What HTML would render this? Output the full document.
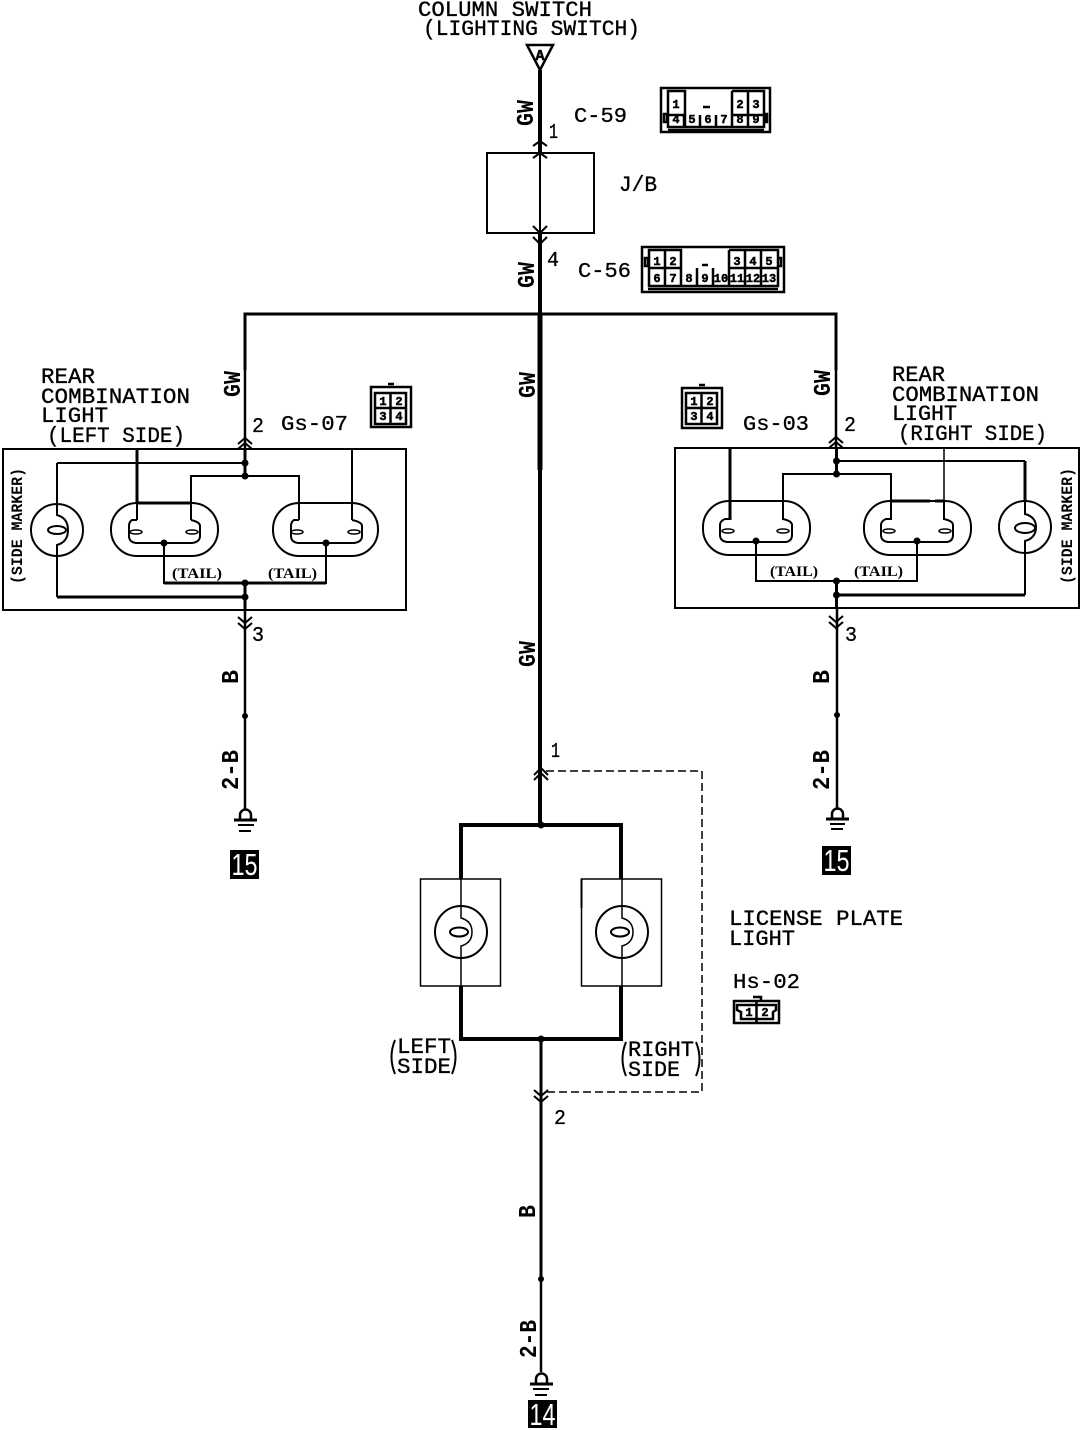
<!DOCTYPE html>
<html><head><meta charset="utf-8"><style>
html,body{margin:0;padding:0;background:#fff}
svg{display:block}
text{font-family:"Liberation Mono",monospace;fill:#000}
.t{font-size:22px;stroke:#000;stroke-width:.35px}
.m{font-size:21px;stroke:#000;stroke-width:.3px}
.r{font-size:24px;font-weight:bold}
.s{font-size:16px;font-weight:bold}
.tl{font-family:"Liberation Serif",serif;font-size:15px;font-weight:bold}
.c{font-size:12px;font-weight:bold;text-anchor:middle;stroke:#000;stroke-width:.5px}
.w{fill:none;stroke:#000;stroke-width:2}
.b{fill:none;stroke:#000;stroke-width:2.500}
.w1{fill:none;stroke:#000;stroke-width:1.5}
.w3{fill:none;stroke:#000;stroke-width:3}
.w4{fill:none;stroke:#000;stroke-width:4}
.n{fill:#000}
.k{font-family:"Liberation Sans",sans-serif;font-size:31px;fill:#fff;text-anchor:middle}
</style></head><body>
<svg width="1088" height="1430" viewBox="0 0 1088 1430" xmlns="http://www.w3.org/2000/svg">
<!-- top labels -->
<text class="t" x="418" y="16" textLength="174" lengthAdjust="spacingAndGlyphs">COLUMN SWITCH</text>
<text class="t" x="423" y="35" textLength="217" lengthAdjust="spacingAndGlyphs">(LIGHTING SWITCH)</text>
<path class="b" d="M527 45H553L540 70Z"/>
<text x="540" y="60" font-size="15" font-weight="bold" stroke="#000" stroke-width=".5" text-anchor="middle">A</text>
<path class="w4" d="M540 70V152M540 234V314"/>
<path class="w" d="M540 152V234"/>
<rect class="w" x="487" y="153" width="107" height="80"/>
<path class="w" d="M533 146L540 141L547 146M533 158L540 153L547 158M533 226L540 233L547 226M533 237L540 244L547 237"/>
<text class="m" x="574" y="122" textLength="53" lengthAdjust="spacingAndGlyphs">C-59</text>
<text class="m" x="549" y="138" textLength="9" lengthAdjust="spacingAndGlyphs">1</text>
<text class="t" x="619" y="191" textLength="38" lengthAdjust="spacingAndGlyphs">J/B</text>
<text class="m" x="547" y="266" textLength="12" lengthAdjust="spacingAndGlyphs">4</text>
<text class="m" x="578" y="277" textLength="53" lengthAdjust="spacingAndGlyphs">C-56</text>

<!-- C-59 connector -->
<g>
<rect class="b" x="661" y="88" width="109" height="44"/>
<path class="b" d="M668 91H685V127H668ZM732 91H764V127H668M732 91V127M668 115H685M732 115H764M748 91V127M684 115V127M700 115V127M716 115V127M668 130H764M664 114H667V122H664ZM765 114H767V122H765Z"/>
<path class="b" d="M703 107H710"/>
<text class="c" x="676" y="108">1</text><text class="c" x="740" y="108">2</text><text class="c" x="756" y="108">3</text>
<text class="c" x="676" y="123">4</text><text class="c" x="692" y="123">5</text><text class="c" x="708" y="123">6</text><text class="c" x="724" y="123">7</text><text class="c" x="740" y="123">8</text><text class="c" x="756" y="123">9</text>
</g>
<!-- C-56 connector -->
<g>
<rect class="b" x="642" y="247" width="142" height="45"/>
<path class="b" d="M649 250H681V268H649ZM729 250H778V268H729M729 250V286M649 268V286H778V250M665 250V286M681 268V286M697 268V286M713 268V286M745 250V286M761 250V286M648 289H778M645 258H648V266H645ZM778 258H781V266H778Z"/>
<path class="b" d="M702 265H708"/>
<text class="c" x="657" y="265">1</text><text class="c" x="673" y="265">2</text><text class="c" x="737" y="265">3</text><text class="c" x="753" y="265">4</text><text class="c" x="769" y="265">5</text>
<text class="c" x="657" y="282">6</text><text class="c" x="673" y="282">7</text><text class="c" x="689" y="282">8</text><text class="c" x="705" y="282">9</text><text class="c" x="721" y="282">10</text><text class="c" x="737" y="282">11</text><text class="c" x="753" y="282">12</text><text class="c" x="769" y="282">13</text>
</g>

<!-- bus -->
<path class="w3" d="M245 370V314H836V370"/>
<path d="M540 314V470" fill="none" stroke="#000" stroke-width="5"/>
<path class="w4" d="M540 470V825"/>
<path class="b" d="M245 370V449M836 370V449"/>

<!-- rotated wire labels -->
<text class="r" transform="translate(533,126) rotate(-90)" textLength="26" lengthAdjust="spacingAndGlyphs">GW</text>
<text class="r" transform="translate(534,288) rotate(-90)" textLength="26" lengthAdjust="spacingAndGlyphs">GW</text>
<text class="r" transform="translate(535,398) rotate(-90)" textLength="26" lengthAdjust="spacingAndGlyphs">GW</text>
<text class="r" transform="translate(535,667) rotate(-90)" textLength="26" lengthAdjust="spacingAndGlyphs">GW</text>
<text class="r" transform="translate(240,397) rotate(-90)" textLength="26" lengthAdjust="spacingAndGlyphs">GW</text>
<text class="r" transform="translate(830,396) rotate(-90)" textLength="26" lengthAdjust="spacingAndGlyphs">GW</text>
<text class="r" transform="translate(238,684) rotate(-90)" textLength="14" lengthAdjust="spacingAndGlyphs">B</text>
<text class="r" transform="translate(829,684) rotate(-90)" textLength="14" lengthAdjust="spacingAndGlyphs">B</text>
<text class="r" transform="translate(535,1218) rotate(-90)" textLength="13" lengthAdjust="spacingAndGlyphs">B</text>
<text class="r" transform="translate(238,790) rotate(-90)" textLength="40" lengthAdjust="spacingAndGlyphs">2-B</text>
<text class="r" transform="translate(829,790) rotate(-90)" textLength="40" lengthAdjust="spacingAndGlyphs">2-B</text>
<text class="r" transform="translate(536,1358) rotate(-90)" textLength="38" lengthAdjust="spacingAndGlyphs">2-B</text>

<!-- LEFT unit -->
<text class="t" x="41" y="383" textLength="54" lengthAdjust="spacingAndGlyphs">REAR</text>
<text class="t" x="41" y="403" textLength="149" lengthAdjust="spacingAndGlyphs">COMBINATION</text>
<text class="t" x="41" y="422" textLength="67" lengthAdjust="spacingAndGlyphs">LIGHT</text>
<text class="t" x="47" y="442" textLength="138" lengthAdjust="spacingAndGlyphs">(LEFT SIDE)</text>
<text class="m" x="252" y="432" textLength="12" lengthAdjust="spacingAndGlyphs">2</text>
<text class="m" x="281" y="430" textLength="67" lengthAdjust="spacingAndGlyphs">Gs-07</text>
<text class="m" x="252" y="641" textLength="12" lengthAdjust="spacingAndGlyphs">3</text>
<g>
<rect class="b" x="371" y="387" width="40" height="40"/>
<path class="b" d="M375 393H406V424H375ZM390.500 393V424M375 408H406M388 384H394"/>
<text class="c" x="383" y="405">1</text><text class="c" x="399" y="405">2</text><text class="c" x="383" y="420">3</text><text class="c" x="399" y="420">4</text>
</g>
<path class="w" d="M238 444L245 438L252 444M238 449L245 443L252 449M238 617L245 623L252 617M238 623L245 629L252 623"/>
<rect class="w" x="3" y="449" width="403" height="161"/>
<path class="w3" d="M245 449V476M245 583V610"/>
<path class="b" d="M245 610V810"/>
<path class="w" d="M57 463H245M57 463V503M191 520V476H299V520M352 449V520M164 542V583H326V542M57 558V597"/>
<path class="w3" d="M137 449V504M57 597H245M164 583H326M137 503H191"/>
<path class="w" d="M137 449V520"/>
<!-- side marker left -->
<circle class="w" cx="57" cy="530" r="26"/>
<path class="w" d="M57 503V515Q68 518 68 530Q68 542 57 545V558"/>
<ellipse class="w" cx="57" cy="530" rx="9" ry="4"/>
<!-- stadium lamps left -->
<rect class="w" x="111" y="503" width="107" height="53" rx="26" ry="26"/>
<rect class="w" x="273" y="503" width="105" height="53" rx="26" ry="26"/>
<path class="w" d="M137 520H132Q129 522 129 526V536Q129 542 136 543H192Q200 542 200 536V526Q200 522 191 520"/>
<path class="w" d="M299 520H294Q291 522 291 526V536Q291 542 298 543H354Q362 542 362 536V526Q362 522 352 520"/>
<ellipse class="w1" cx="136" cy="532" rx="6" ry="2"/><ellipse class="w1" cx="192" cy="532" rx="6" ry="2"/>
<ellipse class="w1" cx="297" cy="532" rx="6" ry="2"/><ellipse class="w1" cx="354" cy="532" rx="6" ry="2"/>
<circle class="n" cx="245" cy="463" r="3.500"/><circle class="n" cx="245" cy="476" r="3.500"/><circle class="n" cx="245" cy="583" r="3.500"/><circle class="n" cx="245" cy="597" r="3.500"/><circle class="n" cx="164" cy="543" r="3.500"/><circle class="n" cx="326" cy="543" r="3.500"/><circle class="n" cx="245" cy="716" r="3"/>
<text class="tl" x="172" y="578" textLength="50" lengthAdjust="spacingAndGlyphs">(TAIL)</text>
<text class="tl" x="268" y="578" textLength="49" lengthAdjust="spacingAndGlyphs">(TAIL)</text>
<text class="s" transform="translate(22,584) rotate(-90)" textLength="116" lengthAdjust="spacingAndGlyphs">(SIDE MARKER)</text>
<!-- ground left -->
<path class="b" d="M240 820V815A5.500 5.500 0 0 1 251 815V820"/>
<path class="w3" d="M234 820H257"/>
<path class="w" d="M238 825H254M239 831H251"/>
<rect class="n" x="230" y="850" width="29" height="29"/>
<text class="k" x="244.500" y="875" textLength="26" lengthAdjust="spacingAndGlyphs">15</text>

<!-- RIGHT unit -->
<text class="t" x="892" y="381" textLength="53" lengthAdjust="spacingAndGlyphs">REAR</text>
<text class="t" x="892" y="401" textLength="147" lengthAdjust="spacingAndGlyphs">COMBINATION</text>
<text class="t" x="892" y="420" textLength="65" lengthAdjust="spacingAndGlyphs">LIGHT</text>
<text class="t" x="898" y="440" textLength="149" lengthAdjust="spacingAndGlyphs">(RIGHT SIDE)</text>
<text class="m" x="844" y="431" textLength="12" lengthAdjust="spacingAndGlyphs">2</text>
<text class="m" x="743" y="430" textLength="66" lengthAdjust="spacingAndGlyphs">Gs-03</text>
<text class="m" x="845" y="641" textLength="12" lengthAdjust="spacingAndGlyphs">3</text>
<g>
<rect class="b" x="682" y="388" width="40" height="40"/>
<path class="b" d="M686 393H717V424H686ZM701.500 393V424M686 408H717M699 385H705"/>
<text class="c" x="694" y="405">1</text><text class="c" x="710" y="405">2</text><text class="c" x="694" y="420">3</text><text class="c" x="710" y="420">4</text>
</g>
<path class="w" d="M829 443L836 437L843 443M829 448L836 442L843 448M829 616L836 622L843 616M829 622L836 628L843 622"/>
<rect class="w" x="675" y="448" width="404" height="160"/>
<path class="w3" d="M836.500 448V474M836.500 581V608"/>
<path class="b" d="M837 608V810"/>
<path class="w" d="M836 461H1025M783 520V474H891V520M756 541V581H917V541M1025 553V595"/>
<path class="w1" d="M944 448V520"/>
<path class="w3" d="M730 448V520M1025 461V501M836 595H1025"/>
<path class="w" d="M944 502V520"/>
<circle class="w" cx="1025" cy="527" r="26"/>
<path class="w" d="M1025 501V514Q1036 517 1036 527Q1036 538 1025 541V553"/>
<ellipse class="w" cx="1025" cy="528" rx="10" ry="5"/>
<rect class="w" x="703" y="501" width="107" height="54" rx="26" ry="26"/>
<rect class="w" x="864" y="501" width="107" height="54" rx="26" ry="26"/>
<path class="w" d="M730 519H725Q720 521 720 525V535Q720 541 727 542H786Q792 541 792 535V525Q792 521 783 519"/>
<path class="w" d="M891 519H886Q881 521 881 525V535Q881 541 888 542H947Q953 541 953 535V525Q953 521 944 519"/>
<ellipse class="w1" cx="728" cy="531" rx="6" ry="2"/><ellipse class="w1" cx="783" cy="531" rx="6" ry="2"/>
<ellipse class="w1" cx="889" cy="531" rx="6" ry="2"/><ellipse class="w1" cx="945" cy="531" rx="6" ry="2"/>
<path class="w3" d="M891 501H930M935 501H944"/>
<circle class="n" cx="836.500" cy="461" r="3.500"/><circle class="n" cx="836.500" cy="474" r="3.500"/><circle class="n" cx="836.500" cy="581" r="3.500"/><circle class="n" cx="836.500" cy="595" r="3.500"/><circle class="n" cx="756" cy="541" r="3.500"/><circle class="n" cx="917" cy="541" r="3.500"/><circle class="n" cx="837" cy="715" r="3"/>
<text class="tl" x="770" y="576" textLength="48" lengthAdjust="spacingAndGlyphs">(TAIL)</text>
<text class="tl" x="854" y="576" textLength="49" lengthAdjust="spacingAndGlyphs">(TAIL)</text>
<text class="s" transform="translate(1072,584) rotate(-90)" textLength="116" lengthAdjust="spacingAndGlyphs">(SIDE MARKER)</text>
<path class="b" d="M832 819V814A5.500 5.500 0 0 1 843 814V819"/>
<path class="w3" d="M826 819H849"/>
<path class="w" d="M830 824H845M831 829H843"/>
<rect class="n" x="822" y="846" width="29" height="29"/>
<text class="k" x="836.500" y="871" textLength="26" lengthAdjust="spacingAndGlyphs">15</text>

<!-- LICENSE PLATE -->
<text class="m" x="551" y="757" textLength="9" lengthAdjust="spacingAndGlyphs">1</text>
<path d="M546 771H702V1092H546" fill="none" stroke="#000" stroke-width="1.500" stroke-dasharray="8 4"/>
<path class="w" d="M534 775L541 768L548 775M534 780L541 773L548 780M534 1096L541 1102L548 1096M534 1090L541 1096L548 1090"/>
<path class="w4" d="M461 879V825H621V879M461 986V1039H621V986"/>
<path class="w3" d="M621 825V879M621 986V1039M541 1039V1280"/>
<path class="b" d="M541 1280V1372"/>
<rect class="w1" x="420.500" y="879" width="80" height="107"/>
<rect class="w1" x="581.500" y="879" width="80" height="107"/>
<path class="w" d="M581.500 879V908"/>
<circle class="w" cx="461" cy="932" r="26"/>
<circle class="w" cx="622" cy="932" r="26"/>
<path class="w1" d="M461 879V918Q472 921 472 932Q472 943 461 946V986M622 879V918Q633 921 633 932Q633 943 622 946V986"/>
<ellipse class="w" cx="459" cy="932" rx="9" ry="4.500"/>
<ellipse class="w" cx="620" cy="932" rx="9" ry="4.500"/>
<circle class="n" cx="541" cy="825" r="3.500"/><circle class="n" cx="541" cy="1039" r="3.500"/><circle class="n" cx="541" cy="1279" r="3"/>
<text class="t" x="729" y="925" textLength="174" lengthAdjust="spacingAndGlyphs">LICENSE PLATE</text>
<text class="t" x="729" y="945" textLength="66" lengthAdjust="spacingAndGlyphs">LIGHT</text>
<text class="m" x="733" y="988" textLength="67" lengthAdjust="spacingAndGlyphs">Hs-02</text>
<g>
<rect class="b" x="734" y="1001" width="45" height="22"/>
<path class="b" d="M737 1005H776V1010L773 1012V1019H741V1012L737 1010ZM756.500 1001V1023M753 997H761V1001"/>
<text class="c" x="749" y="1016">1</text><text class="c" x="765" y="1016">2</text>
</g>
<text class="t" x="397" y="1053" textLength="54" lengthAdjust="spacingAndGlyphs">LEFT</text>
<text class="t" x="397" y="1073" textLength="54" lengthAdjust="spacingAndGlyphs">SIDE</text>
<path class="w" d="M395 1040Q388 1057 395 1074M452 1040Q459 1057 452 1074"/>
<text class="t" x="628" y="1056" textLength="66" lengthAdjust="spacingAndGlyphs">RIGHT</text>
<text class="t" x="628" y="1076" textLength="52" lengthAdjust="spacingAndGlyphs">SIDE</text>
<path class="w" d="M626 1042Q619 1059 626 1076M696 1042Q703 1059 696 1076"/>
<text class="m" x="554" y="1124" textLength="12" lengthAdjust="spacingAndGlyphs">2</text>

<!-- ground bottom -->
<path class="b" d="M536 1384V1379A5.500 5.500 0 0 1 547 1379V1384"/>
<path class="w3" d="M530 1384H553"/>
<path class="w" d="M533 1389H549M535 1395H547"/>
<rect class="n" x="528" y="1400" width="29" height="28"/>
<text class="k" x="542.500" y="1425" textLength="26" lengthAdjust="spacingAndGlyphs">14</text>
</svg>
</body></html>
